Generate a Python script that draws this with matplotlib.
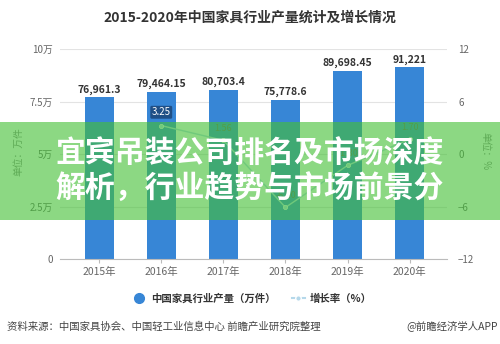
import numpy as np
import matplotlib
matplotlib.use("Agg")
import matplotlib.pyplot as plt
from matplotlib.patches import Rectangle
from matplotlib.lines import Line2D

plt.rcParams['font.family'] = ['Noto Sans CJK SC', 'DejaVu Sans']

years = ["2015年", "2016年", "2017年", "2018年", "2019年", "2020年"]
output = [76961.3, 79464.15, 80703.4, 75778.6, 89698.45, 91221]
growth = [np.nan, 3.25, 1.56, -6.10, -1.30, 1.70]
growth_labels = ["", "3.25", "1.56", "-6.10", "-1.30", "1.70"]
left_ticks = [0, 25000, 50000, 75000, 100000]
left_ticklabels = ["0", "2.5万", "5万", "7.5万", "10万"]
right_ticks = [-12, -6, 0, 6, 12]

title = "2015-2020年中国家具行业产量统计及增长情况"
banner = ["宜宾吊装公司排名及市场深度", "解析，行业趋势与市场前景分"]

bar_color = "#3786d6"
line_color = "#b5d8ea"
tick_color = "#666666"

fig = plt.figure(figsize=(5, 3.44), dpi=100)
ax = fig.add_axes([0.12, 0.247, 0.774, 0.6105])
x = np.arange(len(years))

bars = ax.bar(x, output, width=0.47, color=bar_color, zorder=2)
ax.bar_label(bars, labels=[f"{v:,}" for v in output], padding=2,
             fontsize=7.5, fontweight="bold", color="#333333")

ax.set_xlim(-0.63, 5.6)
ax.set_ylim(0, 100000)
ax.set_yticks(left_ticks)
ax.set_yticklabels(left_ticklabels)
ax.set_xticks(x)
ax.set_xticklabels(years)
ax.grid(axis="y", color="#e3e3e3", linewidth=0.8, zorder=0)
for s in ["left", "right", "top"]:
    ax.spines[s].set_visible(False)
ax.spines["bottom"].set_color("#bbbbbb")
ax.tick_params(axis="y", length=0, labelsize=7, labelcolor=tick_color, pad=5)
ax.tick_params(axis="x", length=3, color="#bbbbbb", labelsize=7.5,
               labelcolor=tick_color, pad=3)

ax2 = ax.twinx()
ax2.set_ylim(-12, 12)
ax2.set_yticks(right_ticks)
ax2.tick_params(axis="y", length=0, labelsize=7, labelcolor=tick_color, pad=8)
for s in ax2.spines.values():
    s.set_visible(False)
ax2.plot(x, growth, color=line_color, linewidth=1.0, marker="o",
         markersize=3, markerfacecolor=line_color, markeredgecolor="white",
         markeredgewidth=0.5, zorder=3)
for i, (g, lab) in enumerate(zip(growth, growth_labels)):
    if not lab:
        continue
    if i == 1:
        ax2.annotate(lab, (i, g), xytext=(0, 6), textcoords="offset points",
                     ha="center", va="bottom", fontsize=7, color="white",
                     bbox=dict(boxstyle="round,pad=0.15", fc="#1f4f86", ec="none"))
    else:
        ax2.annotate(lab, (i, g), xytext=(0, 5), textcoords="offset points",
                     ha="center", va="bottom", fontsize=6.5, color="#666666")

fig.text(0.5, 0.95, title, ha="center", va="center", fontsize=10,
         fontweight="bold", color="#333333")
fig.text(0.036, 0.56, "单位：万件", rotation=90, ha="center", va="center",
         fontsize=7, color="#888888")
fig.text(0.97, 0.56, "单位：%", rotation=-90, ha="center", va="center",
         fontsize=7, color="#888888")

handles = [
    Line2D([], [], linestyle="none", marker="o", markersize=7,
           markerfacecolor=bar_color, markeredgecolor=bar_color),
    Line2D([], [], color=line_color, linewidth=1.5, marker="o", markersize=4,
           markerfacecolor=line_color, markeredgecolor="white"),
]
fig.legend(handles, ["中国家具行业产量（万件）", "增长率（%）"], loc="center",
           bbox_to_anchor=(0.505, 0.131), ncol=2, frameon=False,
           prop={"size": 7.5, "weight": "bold"}, handlelength=1.2,
           columnspacing=1.6, handletextpad=0.5, labelcolor="#333333")

fig.text(0.014, 0.052, "资料来源：中国家具协会、中国轻工业信息中心 前瞻产业研究院整理",
         ha="left", va="center", fontsize=7.5, color="#444444")
fig.text(0.996, 0.052, "@前瞻经济学人APP", ha="right", va="center",
         fontsize=7.5, color="#444444")

# green banner on top of the chart
fig.patches.append(Rectangle((0, 0.3605), 1, 0.2848, transform=fig.transFigure,
                             facecolor="#45c037", alpha=0.62, edgecolor="none",
                             zorder=5))
fig.text(0.11, 0.555, banner[0], ha="left", va="center", fontsize=21.5,
         fontweight="bold", color="white", zorder=6)
fig.text(0.11, 0.45, banner[1], ha="left", va="center", fontsize=21.5,
         fontweight="bold", color="white", zorder=6)

fig.savefig("out.png", dpi=100)
